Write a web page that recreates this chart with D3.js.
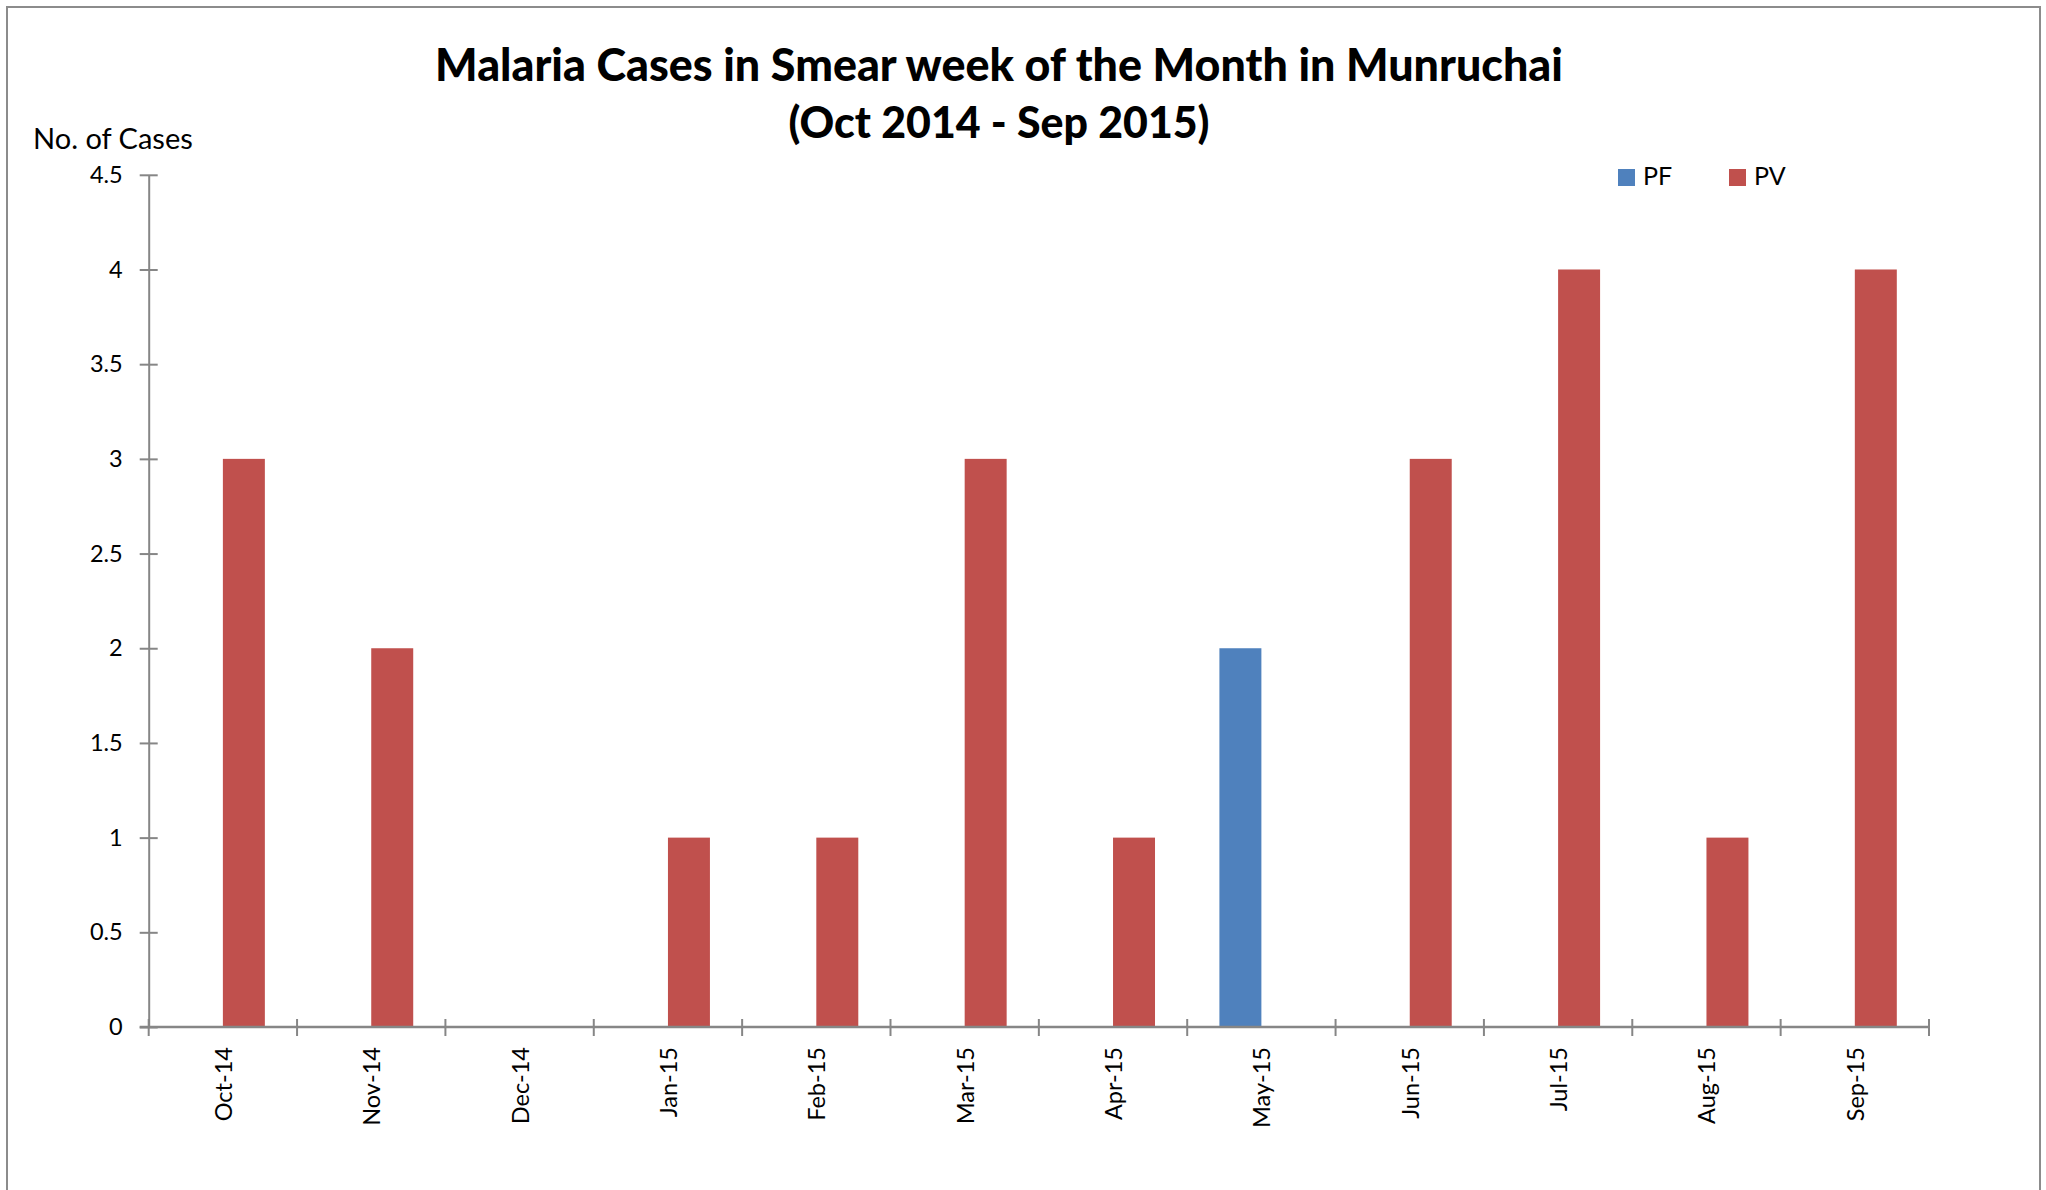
<!DOCTYPE html>
<html>
<head>
<meta charset="utf-8">
<script src="https://cdn.jsdelivr.net/npm/d3@7"></script>
<style>
  html, body { margin: 0; padding: 0; background: #fff; }
  svg { display: block; }
  text { font-family: Lato, "Open Sans", sans-serif; fill: #000; }
</style>
</head>
<body>
<svg id="chart" width="2046" height="1190"></svg>
<script>
const categories = ["Oct-14","Nov-14","Dec-14","Jan-15","Feb-15","Mar-15","Apr-15","May-15","Jun-15","Jul-15","Aug-15","Sep-15"];
const seriesNames = ["PF","PV"];
const pfValues = [0,0,0,0,0,0,0,2,0,0,0,0];
const pvValues = [3,2,0,1,1,3,1,0,3,4,1,4];
const yTicks = [0,0.5,1,1.5,2,2.5,3,3.5,4,4.5];
const seriesColors = {PF: "#4F81BD", PV: "#C0504D"};
const titleLines = ["Malaria Cases in Smear week of the Month in Munruchai", "(Oct 2014 - Sep 2015)"];
const yAxisTitle = "No. of Cases";

const svg = d3.select("#chart");
const axisColor = "#868686";

// outer border
svg.append("rect").attr("x", 7).attr("y", 7).attr("width", 2033).attr("height", 1200)
  .attr("fill", "#fff").attr("stroke", "#8c8c8c").attr("stroke-width", 2);

const plot = {left: 148.7, right: 1929, top: 174.8, bottom: 1027};

const x0 = d3.scaleBand().domain(categories).range([plot.left, plot.right]).paddingInner(0).paddingOuter(0);
const x1 = d3.scaleBand().domain(seriesNames).range([0, x0.bandwidth()]).paddingInner(0).paddingOuter(0.767);
const y = d3.scaleLinear().domain([0, 4.5]).range([plot.bottom, plot.top]);

const data = categories.map((c, i) => ({cat: c, PF: pfValues[i], PV: pvValues[i]}));

// bars
const g = svg.append("g");
g.selectAll("g.cat").data(data).join("g").attr("class", "cat")
  .attr("transform", d => `translate(${x0(d.cat)},0)`)
  .selectAll("rect").data(d => seriesNames.map(s => ({s, v: d[s]})).filter(e => e.v > 0))
  .join("rect")
  .attr("x", d => x1(d.s)).attr("width", x1.bandwidth())
  .attr("y", d => y(d.v)).attr("height", d => y(0) - y(d.v))
  .attr("fill", d => seriesColors[d.s]);

// y axis
const yAxis = d3.axisLeft(y).tickValues(yTicks).tickSize(0).tickPadding(26).tickFormat(d3.format("~g"));
const yg = svg.append("g").attr("transform", `translate(${plot.left},0)`).call(yAxis);
yg.select(".domain").attr("stroke", axisColor).attr("stroke-width", 2);
yg.selectAll(".tick text").style("font-size", "23.5px").attr("font-family", "Lato, sans-serif").attr("fill", "#000");
yg.selectAll(".tick").append("line").attr("x1", -9).attr("x2", 9).attr("stroke", axisColor).attr("stroke-width", 2);

// x axis
const boundaries = categories.map(c => x0(c)).concat([plot.right]);
const xg = svg.append("g");
xg.append("line").attr("x1", plot.left - 9).attr("x2", plot.right).attr("y1", plot.bottom).attr("y2", plot.bottom)
  .attr("stroke", axisColor).attr("stroke-width", 2.5);
xg.selectAll("line.tk").data(boundaries).join("line").attr("class", "tk")
  .attr("x1", d => d).attr("x2", d => d).attr("y1", plot.bottom - 8).attr("y2", plot.bottom + 9)
  .attr("stroke", axisColor).attr("stroke-width", 2);
xg.selectAll("text.lbl").data(categories).join("text").attr("class", "lbl")
  .attr("transform", d => `translate(${x0(d) + x0.bandwidth() / 2},${plot.bottom + 20}) rotate(-90)`)
  .attr("text-anchor", "end").attr("dominant-baseline", "central")
  .style("font-size", "23.5px").text(d => d);

// y axis title
svg.append("text").attr("x", 33).attr("y", 149).style("font-size", "29px").text(yAxisTitle);

// title
const titleY = [81, 138];
const titleW = [1128, 421];
titleLines.forEach((t, i) => {
  const tx = svg.append("text").attr("x", 999).attr("y", titleY[i]).attr("text-anchor", "middle")
    .style("font-size", "40px").style("font-weight", "900").text(t);
  const len = tx.node().getComputedTextLength();
  tx.style("font-size", (40 * titleW[i] / len).toFixed(2) + "px");
});

// legend
const legX = [1618, 1729];
seriesNames.forEach((s, i) => {
  svg.append("rect").attr("x", legX[i]).attr("y", 169).attr("width", 17).attr("height", 17).attr("fill", seriesColors[s]);
  svg.append("text").attr("x", legX[i] + 25).attr("y", 185).style("font-size", "25px").text(s);
});
</script>
</body>
</html>
